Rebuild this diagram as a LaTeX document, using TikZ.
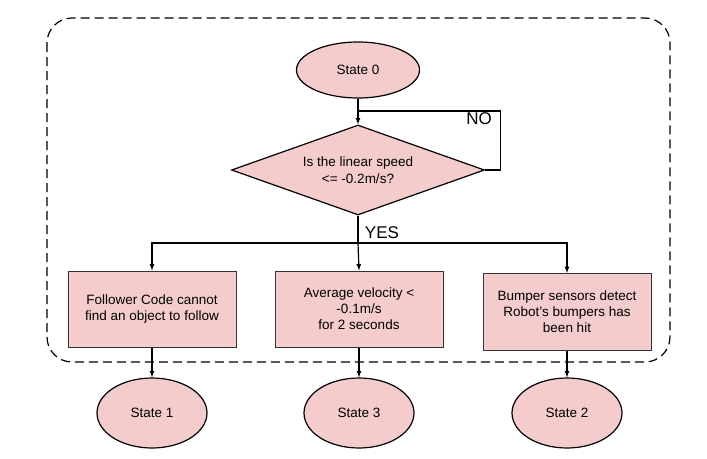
\documentclass[tikz,border=0pt]{standalone}
\usepackage{fontspec}
\setmainfont{Liberation Sans}
\usepackage{tikz}
\usetikzlibrary{shapes.geometric, arrows, positioning, calc}
\definecolor{statepink}{HTML}{F4CCCC}

\begin{document}
\begin{tikzpicture}[x=1pt,y=-1pt,line width=1.2pt,>=latex,
  font=\fontsize{13.5}{16}\selectfont,
  state/.style={draw,ellipse,fill=statepink,inner sep=0pt},
  condbox/.style={draw=black!80,line width=1pt,fill=statepink,align=center,
    minimum width=168pt,minimum height=76pt,inner sep=0pt},
  answer/.style={font=\fontsize{17}{19}\selectfont}]
\useasboundingbox (0,0) rectangle (707,458);

% Frame
\draw[dashed,dash pattern=on 9pt off 5pt,rounded corners=25pt] (47,18) rectangle (670,362);

% Start state
\node[state,minimum width=123pt,minimum height=56pt] (s0) at (358,70) {State 0};

% Decision
\node[draw,diamond,fill=statepink,aspect=2.8,inner sep=0pt,align=center,
  minimum width=253pt,minimum height=90pt] (q) at (358,170)
  {Is the linear speed\\[1pt]<= -0.2m/s?};
\coordinate (back) at (358,111);
\coordinate (split) at (358,243);

% Conditions
\node[condbox] (b1) at (152,309) {Follower Code cannot\\find an object to follow};
\node[condbox] (b2) at (359,309) {Average velocity <\\-0.1m/s\\for 2 seconds};
\node[condbox,minimum height=77pt] (b3) at (567,312) {Bumper sensors detect\\Robot’s bumpers has\\been hit};

% Next states
\node[state,minimum width=110pt,minimum height=70pt] (s1) at (152,413) {State 1};
\node[state,minimum width=110pt,minimum height=70pt] (s3) at (359,413) {State 3};
\node[state,minimum width=110pt,minimum height=70pt] (s2) at (567,413) {State 2};

% Labels
\node[answer] (no) at (479,119) {NO};
\node[answer] (yes) at (382,233) {YES};

% Arrows
\draw[->] (s0) -- (q);
\draw (q.east) -- ++(15,0) |- (back);
\draw (q.south) -- (split);
\draw[->] (split) -| (b1.north);
\draw[->] (split) -- (b2.north);
\draw[->] (split) -| (b3.north);
\draw[->] (b1) -- (s1);
\draw[->] (b2) -- (s3);
\draw[->] (b3) -- (s2);
\end{tikzpicture}
\end{document}
